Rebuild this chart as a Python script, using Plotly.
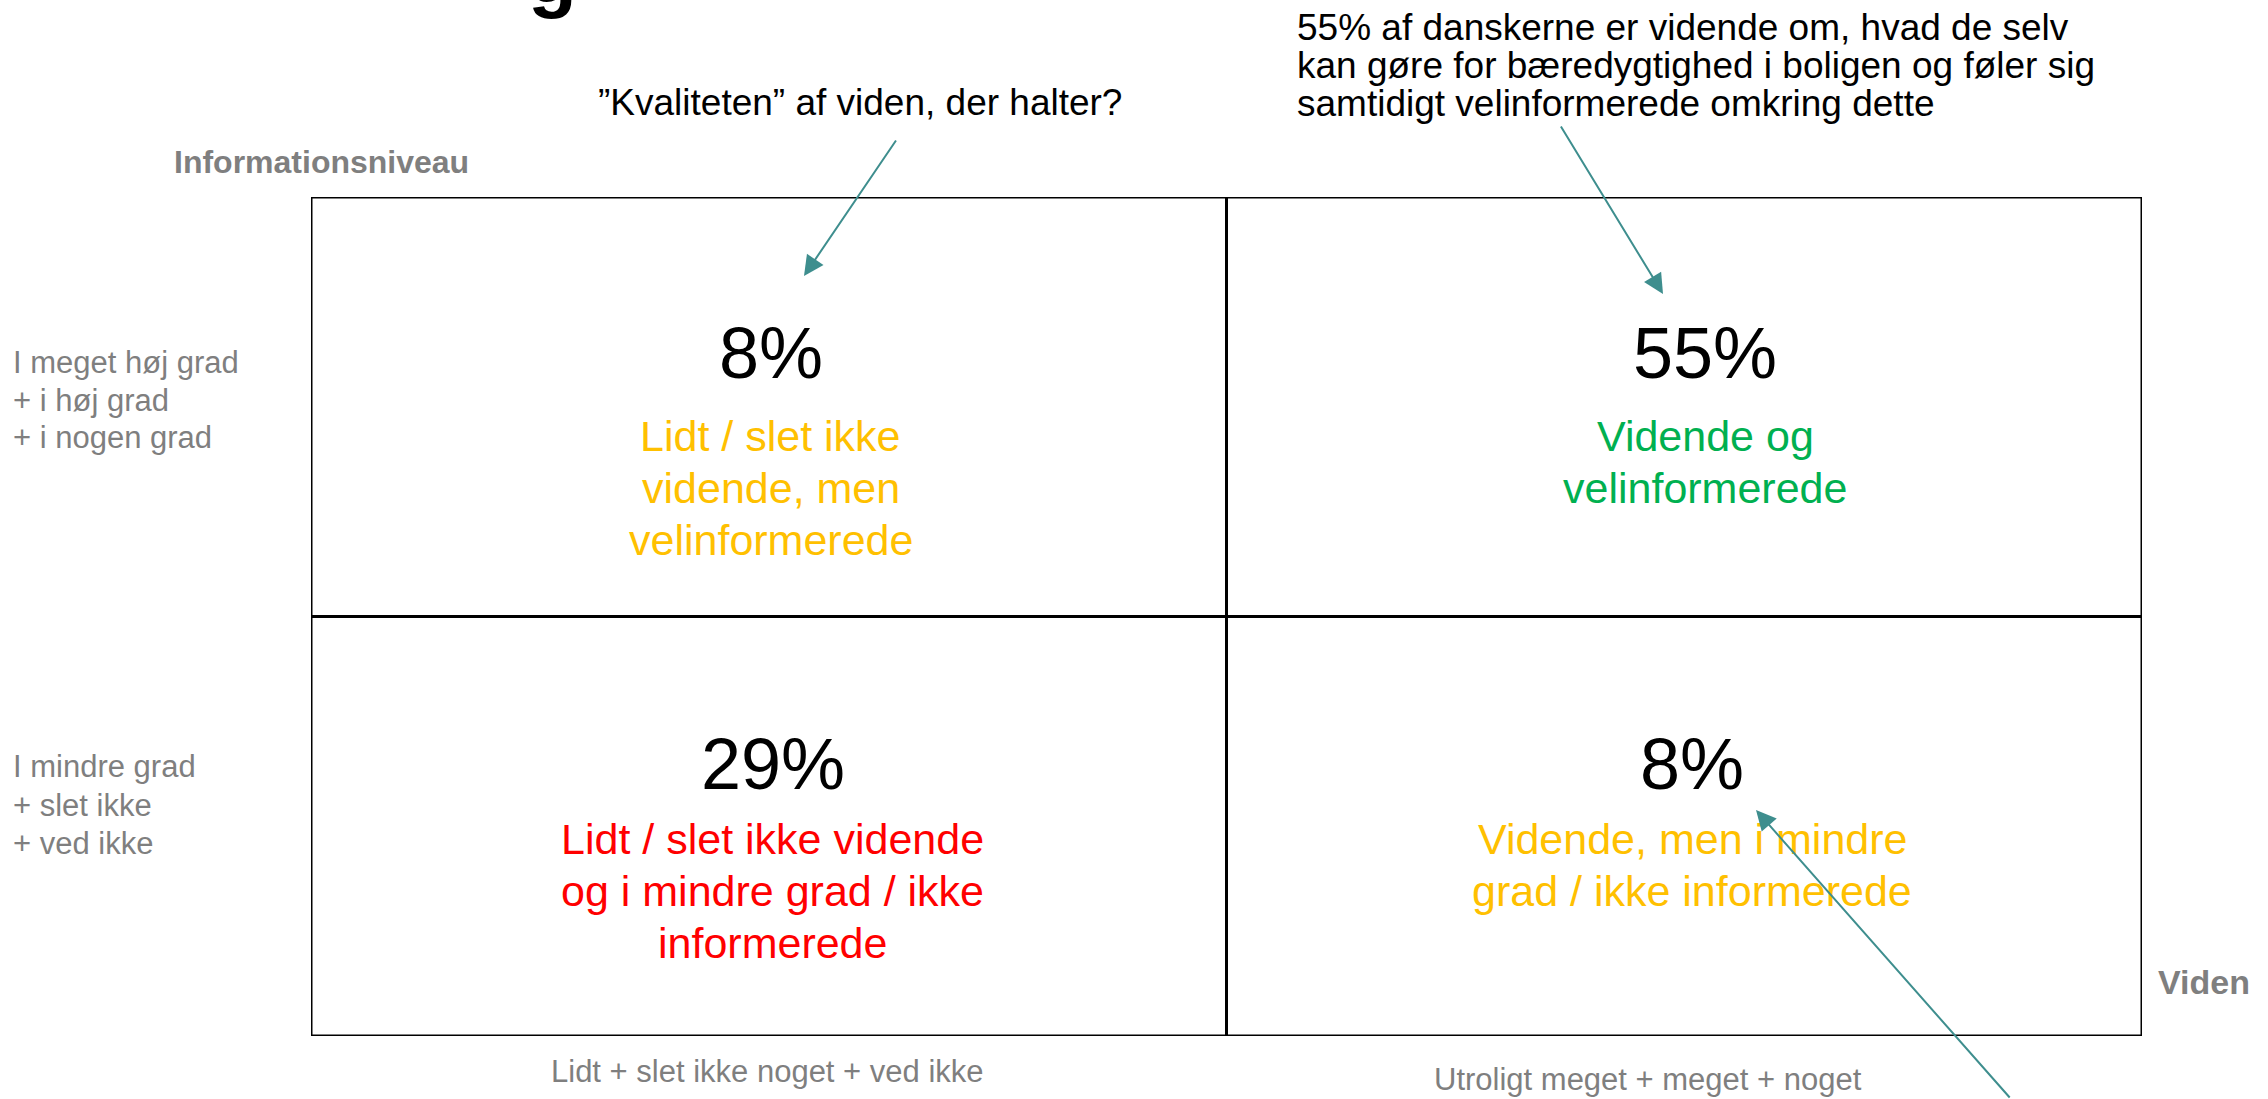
import plotly.graph_objects as go

# ---------------- data ----------------
knowledge_categories = ["Lidt + slet ikke noget + ved ikke", "Utroligt meget + meget + noget"]
information_categories = [
    ["I mindre grad", "+ slet ikke", "+ ved ikke"],
    ["I meget høj grad", "+ i høj grad", "+ i nogen grad"],
]
quadrant_col = [0, 1, 0, 1]
quadrant_row = [1, 1, 0, 0]
quadrant_share = [8, 55, 29, 8]
quadrant_label = [
    ["Lidt / slet ikke", "vidende, men", "velinformerede"],
    ["Vidende og", "velinformerede"],
    ["Lidt / slet ikke vidende", "og i mindre grad / ikke", "informerede"],
    ["Vidende, men i mindre", "grad / ikke informerede"],
]
x_axis_title = "Viden"
y_axis_title = "Informationsniveau"
callout_quality = ["”Kvaliteten” af viden, der halter?"]
callout_main = [
    "55% af danskerne er vidende om, hvad de selv",
    "kan gøre for bæredygtighed i boligen og føler sig",
    "samtidigt velinformerede omkring dette",
]
title_fragment = "g"

# ---------------- styles / layout ----------------
W, H = 2268, 1099
BOX_L, BOX_R, BOX_T, BOX_B = 311, 2142, 197, 1036
FONT = "Liberation Sans, Arial, Helvetica, sans-serif"
GRAY = "#7F7F7F"
TEAL = "#3E8E8E"
quadrant_color = ["#FFC000", "#00B050", "#FF0000", "#FFC000"]
quadrant_dx = [2, 21, 4, 8]            # horizontal nudge of quadrant text (px)
pct_baseline = {1: 378, 0: 789}        # px baseline of big percentage per row
label_first_baseline = {1: 451, 0: 854}
label_spacing = 52
PCT_SIZE, LABEL_SIZE, CALLOUT_SIZE, GRAY_SIZE, BOLD_SIZE = 72, 43, 37, 31, 32


def px(x):
    return x / W


def py(y):
    return 1 - y / H


def quad_center_px(row):
    mid = (BOX_T + BOX_B) / 2
    return (BOX_T + mid) / 2 if row == 1 else (mid + BOX_B) / 2


fig = go.Figure()
fig.add_trace(go.Scatter(
    x=[c + 0.5 for c in quadrant_col], y=[r + 0.5 for r in quadrant_row],
    mode="markers", marker=dict(opacity=0), hoverinfo="skip", showlegend=False))

annotations = []
shapes = []

# quadrant cells
for c, r in zip(quadrant_col, quadrant_row):
    shapes.append(dict(type="rect", xref="x", yref="y", x0=c, x1=c + 1, y0=r, y1=r + 1,
                       line=dict(color="black", width=3), fillcolor="rgba(0,0,0,0)"))


def text_ann(text, x, y, xref, yref, size, color, xanchor="center", bold=False,
             xshift=0, yshift=0):
    return dict(text=f"<b>{text}</b>" if bold else text, x=x, y=y, xref=xref, yref=yref,
                xanchor=xanchor, yanchor="middle", showarrow=False,
                xshift=xshift, yshift=yshift,
                font=dict(family=FONT, size=size, color=color))


# quadrant texts
for i, (c, r, share, lines) in enumerate(zip(quadrant_col, quadrant_row, quadrant_share, quadrant_label)):
    qc = quad_center_px(r)
    pc = pct_baseline[r] - 0.35 * PCT_SIZE
    annotations.append(text_ann(f"{share}%", c + 0.5, r + 0.5, "x", "y", PCT_SIZE, "black",
                                xshift=quadrant_dx[i], yshift=qc - pc))
    for k, line in enumerate(lines):
        lc = label_first_baseline[r] + k * label_spacing - 0.35 * LABEL_SIZE
        annotations.append(text_ann(line, c + 0.5, r + 0.5, "x", "y", LABEL_SIZE, quadrant_color[i],
                                    xshift=quadrant_dx[i], yshift=qc - lc))

# y category labels (left)
left_baselines = {1: [373, 411, 448], 0: [777, 816, 854]}
for r, lines in enumerate(information_categories):
    for k, line in enumerate(lines):
        annotations.append(text_ann(line, px(11), py(left_baselines[r][k] - 0.35 * GRAY_SIZE),
                                    "paper", "paper", GRAY_SIZE, GRAY, xanchor="left"))

# x category labels (bottom)
bottom_x = [767, 1648]
bottom_baseline = [1082, 1090]
for c, lab in enumerate(knowledge_categories):
    annotations.append(text_ann(lab, px(bottom_x[c]), py(bottom_baseline[c] - 0.35 * GRAY_SIZE),
                                "paper", "paper", GRAY_SIZE, GRAY))

# axis titles
annotations.append(text_ann(y_axis_title, px(172), py(173 - 0.35 * BOLD_SIZE), "paper", "paper",
                            BOLD_SIZE, GRAY, xanchor="left", bold=True))
annotations.append(text_ann(x_axis_title, px(2156), py(994 - 0.35 * 34), "paper", "paper",
                            34, GRAY, xanchor="left", bold=True))

# callouts
annotations.append(text_ann(callout_quality[0], px(860), py(115 - 0.35 * CALLOUT_SIZE), "paper", "paper",
                            CALLOUT_SIZE, "black"))
main_baselines = [40, 78, 116]
for k, line in enumerate(callout_main):
    annotations.append(text_ann(line, px(1295), py(main_baselines[k] - 0.35 * CALLOUT_SIZE), "paper", "paper",
                                CALLOUT_SIZE, "black", xanchor="left"))

# title fragment (cut off at the top of the slide)
annotations.append(dict(text=f"<b>{title_fragment}</b>", x=px(552), y=py(21), xref="paper", yref="paper",
                        xanchor="center", yanchor="bottom", showarrow=False,
                        font=dict(family=FONT, size=80, color="black")))

# arrows (head position, tail offset in px)
arrows = [((804, 276), (93, -137)), ((1663, 294), (-103, -169)), ((1756, 810), (255, 320))]
for (hx, hy), (ax, ay) in arrows:
    annotations.append(dict(text="", x=px(hx), y=py(hy), xref="paper", yref="paper",
                            ax=ax, ay=ay, axref="pixel", ayref="pixel", showarrow=True,
                            arrowhead=2, arrowsize=2, arrowwidth=2, arrowcolor=TEAL, standoff=0))

fig.update_layout(
    width=W, height=H, margin=dict(l=0, r=0, t=0, b=0, pad=0),
    paper_bgcolor="white", plot_bgcolor="white", showlegend=False,
    xaxis=dict(range=[0, 2], domain=[BOX_L / W, BOX_R / W], visible=False, fixedrange=True),
    yaxis=dict(range=[0, 2], domain=[1 - BOX_B / H, 1 - BOX_T / H], visible=False, fixedrange=True),
    shapes=shapes, annotations=annotations,
)

fig.write_html("out.html", config={"displayModeBar": False},
               post_script="document.body.style.margin='0';document.body.style.overflow='hidden';")
